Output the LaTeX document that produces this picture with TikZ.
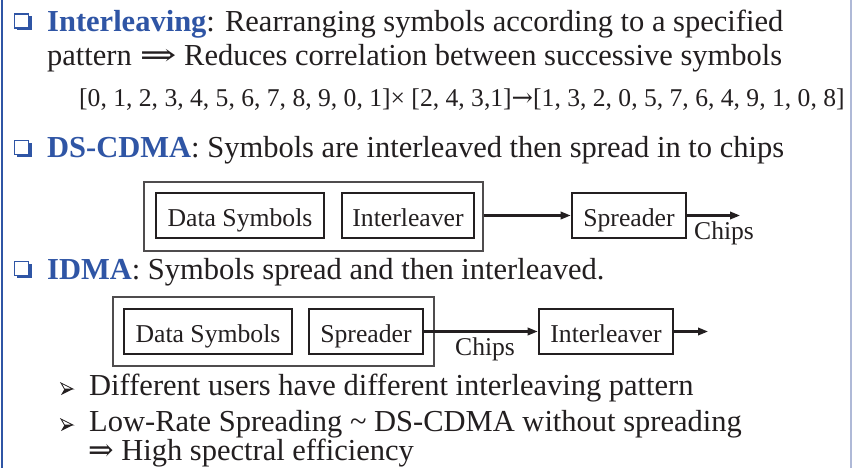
\documentclass[tikz,border=0pt]{standalone}
\usepackage{fontspec}
\setmainfont{Liberation Serif}
\newfontfamily\symf{DejaVu Serif}
\usetikzlibrary{arrows.meta}
\definecolor{tblue}{RGB}{47,85,165}
\definecolor{tdark}{RGB}{35,31,32}
\definecolor{edgec}{RGB}{175,185,215}
\newcommand{\dblarr}{{\symf ⇒}}
\newcommand{\widedblarr}{\scalebox{1.45}[1]{\symf ⇒}}
\newcommand{\sgarr}{{\symf →}}
\begin{document}
\begin{tikzpicture}[x=1pt,y=-1pt,
  txt/.style={anchor=base west, inner sep=0pt, text=tdark, font=\fontsize{30.5}{36}\selectfont},
  numtxt/.style={anchor=base west, inner sep=0pt, text=tdark, font=\fontsize{25.6}{30}\selectfont},
  blk/.style={draw=tdark, line width=2.7pt, minimum height=45pt, inner sep=0pt, text height=21pt, text depth=0pt, text=tdark, font=\fontsize{25.7}{30}\selectfont},
  groupbox/.style={draw=tdark!80, line width=1.4pt, minimum height=69pt, inner sep=0pt},
  conn/.style={draw=tdark, line width=2.1pt, -{Triangle[length=10pt,width=7.5pt]}},
  sqb/.pic={
    \fill[tblue] (3,-15) rectangle (17.5,-1);
    \draw[tblue, fill=white, line width=1.5pt] (0.5,-17.5) rectangle (14.5,-3.5);
  },
  arb/.pic={
    \draw[tdark, line width=0.8pt, line join=miter] (0,-12) -- (12,-6) -- (3.5,-6) -- cycle;
    \fill[tdark] (3.5,-6) -- (12,-6) -- (0,0) -- cycle;
  }
]
\useasboundingbox (0,0) rectangle (852,468);
\fill[white] (0,0) rectangle (852,468);
\draw[tblue, line width=2.6pt] (2,0) -- (2,468);
\draw[edgec, line width=1.2pt] (851,0) -- (851,468);

% Interleaving
\pic at (14,31.5) {sqb};
\node[txt] (l1) at (47,31.5) {\textcolor{tblue}{\textbf{Interleaving}}: Rearranging symbols according to a specified};
\node[txt] (l2) at (47,65.5) {pattern \widedblarr{} Reduces correlation between successive symbols};
\node[numtxt] (l3) at (79,107) {[0, 1, 2, 3, 4, 5, 6, 7, 8, 9, 0, 1]× [2, 4, 3,1]\sgarr[1, 3, 2, 0, 5, 7, 6, 4, 9, 1, 0, 8]};

% DS-CDMA
\pic at (14,158) {sqb};
\node[txt] (l4) at (47,158) {\textcolor{tblue}{\textbf{DS-CDMA}}: Symbols are interleaved then spread in to chips};

\node[groupbox, minimum width=339pt] (g1) at (313.5,216.5) {};
\node[blk, minimum width=168pt] (ds1) at (240,215.5) {Data Symbols};
\node[blk, minimum width=132pt] (il1) at (408,215.5) {Interleaver};
\node[blk, minimum width=114pt] (sp1) at (629,215.5) {Spreader};
\coordinate (e1) at (740,215.5);
\draw[conn] (g1.east |- sp1.west) -- (sp1.west);
\draw[conn] (sp1.east) -- (e1);
\node[numtxt] (c1) at (694,240) {Chips};

% IDMA
\pic at (14,279) {sqb};
\node[txt] (l5) at (47,279) {\textcolor{tblue}{\textbf{IDMA}}: Symbols spread and then interleaved.};

\node[groupbox, minimum width=321pt] (g2) at (273.5,331.5) {};
\node[blk, minimum width=168pt] (ds2) at (208,331.5) {Data Symbols};
\node[blk, minimum width=114pt] (sp2) at (366,331.5) {Spreader};
\node[blk, minimum width=134pt] (il2) at (606,331.5) {Interleaver};
\coordinate (e2) at (708,331.5);
\draw[conn] (sp2.east) -- (il2.west);
\draw[conn] (il2.east) -- (e2);
\node[numtxt] (c2) at (455,355) {Chips};

% sub-bullets
\pic at (61,395) {arb};
\node[txt] (l6) at (89,395) {Different users have different interleaving pattern};
\pic at (61,431) {arb};
\node[txt] (l7) at (89,431) {Low-Rate Spreading \textasciitilde\ DS-CDMA without spreading};
\node[txt] (l8) at (88,460) {\dblarr{} High spectral efficiency};
\end{tikzpicture}
\end{document}
